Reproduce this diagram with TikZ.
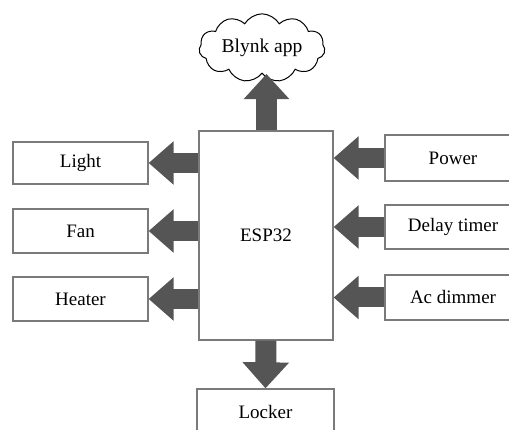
\documentclass[tikz,border=0pt]{standalone}
\usepackage{fontspec}
\setmainfont{Liberation Serif}
\usetikzlibrary{arrows.meta,shapes.symbols}
\definecolor{boxline}{HTML}{7A7A7A}
\definecolor{arrowgray}{HTML}{555555}
\tikzset{
  blk/.style={draw=boxline, line width=1.3pt, fill=white, rectangle, inner sep=0pt,
    font=\fontsize{19}{22}\selectfont, text=black},
  side/.style={blk, minimum width=135pt},
  fat/.style={arrowgray, line width=20pt, -{Triangle[length=25pt,width=42pt]}},
}
\begin{document}
\begin{tikzpicture}[x=1pt,y=-1pt]
\useasboundingbox (0,0) rectangle (509,430);
\clip (0,0) rectangle (509,430);
\fill[white] (0,0) rectangle (509,430);
\node[blk, minimum width=134pt, minimum height=209pt] (esp) at (266,235.5) {ESP32};
\node[side, minimum height=42pt] (light) at (80.5,163) {Light};
\node[side, minimum height=44pt] (fan) at (80.5,231) {Fan};
\node[side, minimum height=44pt] (heater) at (80.5,299) {Heater};
\node[side, minimum width=136pt, minimum height=46pt] (power) at (453,158) {Power};
\node[side, minimum width=136pt, minimum height=44pt] (delay) at (453,227) {Delay timer};
\node[side, minimum width=136pt, minimum height=45pt] (ac) at (453,297.5) {Ac dimmer};
\node[side, minimum width=137pt, minimum height=46pt] (locker) at (265.5,412) {Locker};
\node[cloud, cloud puffs=11, cloud puff arc=120, aspect=2.2, draw=black, line width=1pt,
  fill=white, minimum width=126pt, minimum height=56pt, inner sep=0pt,
  font=\fontsize{19.5}{22}\selectfont] (cloud) at (262,48) {\raisebox{-4pt}{Blynk app}};
\draw[fat] (esp.west |- light) -- (light.east);
\draw[fat] (esp.west |- fan) -- (fan.east);
\draw[fat] (esp.west |- heater) -- (heater.east);
\draw[fat] (power.west) -- (esp.east |- power);
\draw[fat] (delay.west) -- (esp.east |- delay);
\draw[fat] (ac.west) -- (esp.east |- ac);
\draw[fat, line width=21pt, -{Triangle[length=25pt,width=44pt]}] ([xshift=0.5pt]esp.north) -- ([xshift=0.5pt]esp.north |- cloud.south);
\draw[fat, line width=21pt, -{Triangle[length=26pt,width=45pt]}] (esp.south) -- (locker.north);
\end{tikzpicture}
\end{document}
